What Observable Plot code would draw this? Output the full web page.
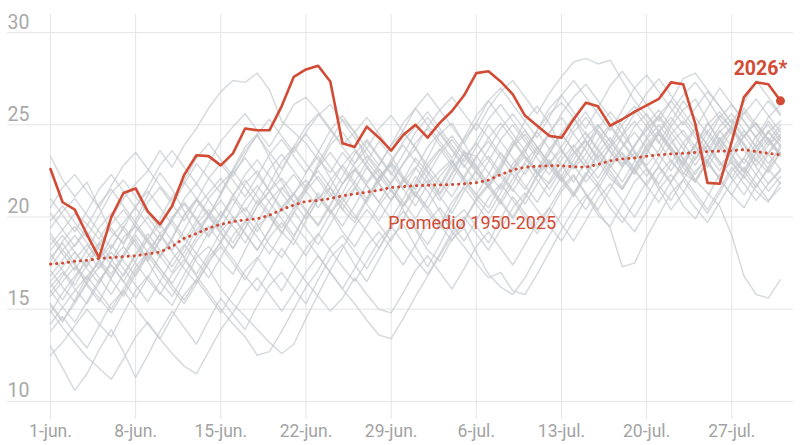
<!DOCTYPE html>
<html>
<head>
<meta charset="utf-8">
<script src="https://cdn.jsdelivr.net/npm/d3@7"></script>
<script src="https://cdn.jsdelivr.net/npm/@observablehq/plot@0.6"></script>
<style>
  html, body { margin: 0; padding: 0; background: #fff; }
  #chart svg { display: block; overflow: hidden; }
</style>
</head>
<body>
<div id="chart"></div>
<script>
// ---- Data ----
const yTicks = [10, 15, 20, 25, 30];
const xTickDias = [0, 7, 14, 21, 28, 35, 42, 49, 56];
const xTickEtiquetas = ["1-jun.", "8-jun.", "15-jun.", "22-jun.", "29-jun.", "6-jul.", "13-jul.", "20-jul.", "27-jul."];

const serie2026 = [
  22.6, 20.8, 20.4, 19.05, 17.8, 20.0, 21.3, 21.55, 20.3, 19.6,
  20.6, 22.3, 23.35, 23.3, 22.8, 23.45, 24.8, 24.7, 24.7, 26.0,
  27.6, 28.0, 28.2, 27.35, 24.0, 23.8, 24.9, 24.3, 23.6, 24.45,
  25.0, 24.3, 25.1, 25.75, 26.6, 27.8, 27.9, 27.35, 26.65, 25.5,
  24.95, 24.4, 24.3, 25.3, 26.2, 26.0, 24.95, 25.3, 25.7, 26.05,
  26.4, 27.3, 27.2, 25.05, 21.85, 21.8, 24.1, 26.5, 27.3, 27.2, 26.3
];

const promedio = [
  17.45, 17.5, 17.6, 17.65, 17.75, 17.8, 17.85, 17.9, 18.0, 18.1,
  18.4, 18.85, 19.1, 19.4, 19.6, 19.75, 19.85, 19.9, 20.1, 20.4,
  20.65, 20.85, 20.9, 21.0, 21.15, 21.25, 21.35, 21.45, 21.6, 21.65,
  21.7, 21.72, 21.74, 21.76, 21.8, 21.86, 22.0, 22.3, 22.55, 22.7,
  22.75, 22.78, 22.78, 22.72, 22.7, 22.85, 23.05, 23.15, 23.2, 23.3,
  23.37, 23.42, 23.45, 23.5, 23.55, 23.57, 23.6, 23.65, 23.55, 23.45, 23.37
];

const historicos = [
  [12.5,13.2,14.1,15.0,14.2,13.5,14.8, 16.0,16.8,15.9,15.2,16.5,17.8,18.4, 17.6,16.9,18.2,19.5,20.1,19.2,18.5, 19.8,21.0,21.6,20.4,19.7,20.9,22.1, 22.8,21.5,20.6,21.8,22.5,23.1,22.0, 21.2,20.5,21.7,22.9,23.6,22.4,21.8, 22.7,23.5,24.2,23.0,22.1,21.5,22.6, 23.8,24.5,23.6,22.4,21.9,23.0,24.1, 24.8,23.9,22.7,21.8,22.5],
  [23.3,22.0,21.1,21.9,20.5,19.2,18.6, 19.8,21.2,22.4,21.5,20.3,19.1,20.0, 21.3,22.6,23.8,24.5,23.2,21.9,20.8, 21.5,22.9,24.1,25.3,24.6,23.0,22.2, 21.4,20.6,21.9,23.2,24.5,25.1,24.0, 22.8,21.7,22.5,23.9,25.2,26.0,25.1, 23.7,22.6,23.4,24.8,25.7,24.9,23.5, 22.8,23.6,24.9,25.8,26.4,25.2,24.0, 23.1,22.5,23.8,24.6,23.9],
  [18.5,19.3,20.2,19.6,18.8,19.9,21.0, 21.8,22.5,23.6,22.7,23.9,24.8,25.9, 26.8,27.4,27.3,27.8,26.9,25.2,24.6, 24.0,23.1,22.4,23.5,22.7,21.9,22.8, 23.9,24.6,23.8,22.5,21.7,22.9,24.2, 25.1,24.3,23.4,22.6,23.5,24.7,25.6, 26.2,25.4,24.1,23.2,24.0,25.3,26.0, 25.2,24.1,23.0,22.3,23.4,24.6,25.5, 24.8,23.6,22.8,23.5,24.4],
  [13.0,11.8,10.6,11.5,12.8,13.9,12.7, 11.3,12.5,13.8,14.9,14.0,13.1,14.4, 15.6,14.7,13.9,15.2,16.3,17.0,16.1, 15.3,16.6,17.8,18.5,17.4,16.5,17.7, 18.9,19.6,18.4,17.3,18.5,19.8,20.4, 19.5,18.6,19.9,21.1,20.2,19.3,20.5, 21.6,22.3,21.2,20.1,19.5,20.7,21.9, 22.6,21.5,20.4,21.3,22.5,23.1,22.0, 21.2,20.5,21.7,22.6,21.8],
  [16.5,17.3,18.1,17.2,16.4,17.6,18.9, 19.5,18.7,17.9,18.8,20.1,21.0,20.2, 19.4,20.6,21.8,22.5,21.4,20.3,21.2, 22.4,23.3,22.1,21.0,21.9,23.0,24.1, 23.3,22.2,21.5,22.7,23.6,24.4,23.5, 22.6,23.7,24.8,25.6,24.7,23.8,22.9, 23.8,24.9,25.7,24.6,23.5,22.8,23.9, 24.7,25.4,24.3,23.1,22.0,21.3,20.6, 19.0,16.8,15.8,15.6,16.6],
  [15.2,14.3,15.5,16.8,17.5,16.6,15.7, 16.9,18.2,19.0,18.1,17.2,16.4,17.5, 18.7,19.8,20.5,19.6,18.5,17.8,18.9, 20.2,21.1,20.3,19.2,18.4,19.5,20.6, 21.5,20.4,19.3,18.2,17.6,18.8,19.4, 18.1,16.9,16.2,15.8,16.7,17.9,19.0, 20.2,21.3,22.4,21.6,20.5,19.7,20.8, 21.9,22.7,21.8,20.6,19.9,21.1,22.3, 23.0,22.2,21.4,20.8,21.9],
  [17.8,18.6,17.5,16.3,15.4,16.7,17.9, 18.8,17.6,16.5,15.7,16.9,18.0,17.2, 16.1,15.3,14.6,13.9,13.2,12.6,13.1, 14.5,15.8,17.1,18.3,19.5,20.4,19.6, 18.7,19.9,21.2,22.0,21.1,20.2,21.4, 22.5,23.3,22.4,21.5,20.7,21.8,22.9, 23.6,22.8,21.9,22.7,23.8,24.5,23.6, 22.7,21.8,22.9,24.0,24.8,23.9,22.8, 23.5,24.4,25.1,24.2,23.4],
  [19.8,20.6,19.7,18.9,20.1,21.3,22.0, 21.1,20.2,19.4,20.6,21.8,22.9,22.1, 21.3,22.5,23.6,24.4,23.5,22.6,23.8, 24.9,25.6,24.7,23.8,22.9,23.7,24.8, 25.5,24.6,23.7,24.9,25.8,26.5,25.6, 24.7,25.9,26.8,27.4,26.5,25.6,26.7, 27.6,28.4,28.6,28.3,28.5,27.4,26.3, 25.5,24.6,25.7,26.6,27.3,26.4,25.3, 24.5,25.6,26.4,25.5,24.6],
  [17.1,16.2,15.4,16.5,17.7,18.5,17.6, 16.8,17.9,19.1,19.8,18.9,18.0,19.2, 20.3,19.5,18.6,19.7,20.9,21.6,20.8, 19.9,20.9,22.0,22.8,21.9,21.0,22.1, 23.0,22.1,21.2,20.5,21.6,22.7,23.4, 22.5,21.6,22.7,23.8,24.5,23.6,22.7, 21.9,22.8,23.9,24.7,23.8,22.9,23.9, 24.8,25.5,24.6,23.7,22.8,23.9,24.9, 25.6,24.7,23.8,24.6,25.2],
  [14.8,15.9,16.8,17.6,16.7,15.8,16.9, 18.0,18.8,17.9,17.0,18.1,19.3,20.1, 19.2,18.3,19.4,20.6,21.4,22.1,21.2, 20.3,19.6,20.7,21.8,22.6,21.7,20.8, 21.9,22.9,23.7,22.8,21.9,21.1,22.2, 23.3,24.1,23.2,22.3,21.5,22.6,23.7, 24.5,23.6,22.7,21.8,22.9,23.8,24.6, 23.7,22.8,21.9,22.8,23.9,24.7,23.8, 22.9,22.1,23.2,24.1,23.3],
  [20.5,21.6,22.3,21.4,20.5,21.7,22.8, 23.5,22.6,21.7,20.9,22.0,23.2,24.0, 23.1,22.2,23.4,24.5,25.3,24.4,23.5, 24.6,25.5,26.1,25.2,24.3,23.4,22.6, 21.8,22.9,24.0,24.8,23.9,23.0,22.1, 23.2,24.3,25.1,24.2,23.3,22.4,23.5, 24.6,25.4,24.5,23.6,22.7,23.8,24.9, 25.6,24.7,23.8,22.9,23.9,25.0,25.7, 24.8,23.9,23.0,23.9,24.8],
  [13.8,14.6,13.7,12.9,14.1,15.3,16.0, 15.1,14.2,13.4,14.6,15.8,16.6,15.7, 14.8,15.9,17.1,17.8,16.9,16.0,17.2, 18.3,19.1,18.2,17.3,16.5,17.6,18.7, 19.5,18.6,17.7,16.9,18.0,19.2,20.0, 19.1,18.2,19.3,20.5,21.3,20.4,19.5, 18.7,19.8,21.0,21.8,20.9,20.0,19.2, 20.3,21.5,22.3,21.4,20.5,19.7,20.8, 21.9,22.7,21.8,20.9,21.6],
  [18.9,18.0,17.1,18.2,19.4,20.2,19.3, 18.4,17.6,18.7,19.9,20.7,19.8,18.9, 20.0,21.2,22.0,21.1,20.2,19.4,20.5, 21.7,22.5,21.6,20.7,19.9,21.0,22.2, 22.9,22.0,21.1,22.3,23.4,24.2,23.3, 22.4,21.6,22.7,23.9,24.7,23.8,22.9, 22.0,23.1,24.3,25.0,24.1,23.2,22.4, 23.5,24.6,25.4,24.5,23.6,22.7,23.8, 25.0,25.7,24.8,23.9,24.5],
  [14.9,14.0,13.2,12.4,11.8,11.2,12.3, 13.5,14.3,13.4,12.6,11.9,11.5,12.7, 13.9,14.8,15.9,16.7,15.8,14.9,15.9, 17.0,17.9,17.0,16.1,17.2,18.4,19.2, 18.3,17.4,18.5,19.7,20.5,19.6,18.7, 19.8,21.0,21.8,20.9,20.0,19.1,20.2, 21.4,22.2,21.3,20.4,21.5,22.7,23.5, 22.6,21.7,20.9,22.0,23.2,23.9,23.0, 22.1,21.2,22.3,23.4,22.6],
  [16.2,17.0,16.1,15.3,16.4,17.6,18.4, 17.5,16.6,15.8,16.9,17.7,16.8,15.9, 15.0,14.2,13.5,12.5,12.7,13.8,15.0, 16.2,17.1,18.3,19.0,18.1,17.2,18.3, 19.5,20.3,19.4,18.5,19.6,20.8,21.6, 20.7,19.8,20.9,22.1,22.9,22.0,21.1, 22.2,23.4,24.1,23.2,22.3,21.5,22.6, 23.7,24.5,23.6,22.7,21.9,23.0,24.2, 24.9,24.0,23.1,22.4,23.5],
  [18.2,19.0,18.1,17.3,18.4,19.6,20.4, 19.5,18.6,17.8,18.9,20.1,20.9,20.0, 19.1,18.3,19.4,20.6,21.4,20.5,19.6, 18.8,17.9,17.0,16.1,15.3,14.4,13.6, 13.4,14.5,15.7,16.8,17.9,19.0,19.8, 20.9,21.7,20.8,19.9,21.0,22.2,23.0, 22.1,21.2,22.3,23.5,24.3,23.4,22.5, 21.7,22.8,24.0,24.7,23.8,22.9,22.1, 23.2,24.4,25.1,24.2,23.3],
  [17.6,18.7,19.5,18.6,17.7,16.9,18.0, 19.2,20.0,19.1,18.2,19.3,20.5,21.3, 22.1,21.2,20.3,21.4,22.6,23.4,22.5, 21.6,22.7,23.9,24.6,23.7,22.8,21.9, 22.9,24.1,24.9,25.7,24.8,23.9,23.0, 24.1,25.3,26.1,25.2,24.3,23.4,24.5, 25.6,26.5,27.2,26.3,25.4,24.5,25.6, 26.7,27.5,26.6,25.7,24.8,25.9,27.0, 26.1,25.2,24.3,25.4,26.1],
  [16.0,15.1,14.3,15.4,16.6,17.4,16.5, 15.6,16.7,17.9,18.7,17.8,16.9,18.0, 19.2,20.0,19.1,18.2,19.3,20.5,21.3, 20.4,19.5,20.6,21.8,22.6,21.7,20.8, 19.9,21.0,22.2,21.4,20.3,19.2,18.4, 17.5,16.7,17.0,16.0,15.8,16.9,18.1, 19.3,20.4,21.2,20.3,19.4,17.3,17.5, 18.9,20.1,21.3,22.0,21.1,20.2,21.3, 22.5,23.2,22.3,21.4,22.2],
  [21.0,20.1,19.2,20.3,21.5,22.3,21.4, 20.5,21.6,22.8,23.6,22.7,21.8,22.9, 24.1,24.9,25.6,24.7,23.8,24.9,26.1, 26.5,25.7,24.8,23.9,24.6,25.4,24.5, 23.6,24.7,25.9,26.7,25.8,24.9,24.0, 25.1,26.3,27.0,26.1,25.2,24.3,25.4, 26.6,27.4,26.5,25.6,24.7,25.8,27.0, 27.7,26.8,25.9,25.0,25.9,26.8,26.0, 25.1,24.3,25.4,26.3,25.5],
  [15.7,16.5,17.3,16.4,15.6,14.8,15.9, 17.1,17.9,17.0,16.1,15.3,16.4,17.6, 18.4,17.5,16.6,17.7,18.9,19.7,18.8, 17.9,19.0,20.2,21.0,20.1,19.2,18.3, 19.4,20.6,21.4,20.5,19.6,18.7,19.8, 21.0,21.8,20.9,20.0,21.1,22.3,23.1, 22.2,21.3,20.4,21.5,22.7,23.5,22.6, 21.7,20.8,21.9,23.1,23.9,23.0,22.1, 21.2,22.3,23.5,24.3,23.4],
  [19.4,20.3,21.0,20.1,19.2,18.3,19.4, 20.6,21.4,20.5,19.6,18.7,19.8,21.0, 21.8,22.5,21.6,20.7,21.8,23.0,23.8, 22.9,22.0,21.1,22.2,23.4,24.2,23.3, 22.4,21.5,22.6,23.8,24.6,23.7,22.8, 21.9,23.0,24.2,25.0,24.1,23.2,22.3, 23.4,24.6,25.4,24.5,23.6,22.7,23.8, 25.0,25.8,24.9,24.0,23.1,24.2,25.4, 26.1,25.2,24.3,23.4,24.3],
  [16.8,17.7,18.5,19.2,18.3,17.4,16.5, 17.6,18.8,19.6,18.7,17.8,18.9,20.1, 20.9,20.0,19.1,18.2,19.3,20.5,21.3, 22.0,21.1,20.2,21.3,22.5,23.3,22.4, 21.5,20.6,21.7,22.9,23.7,22.8,21.9, 21.0,20.2,21.3,22.5,23.3,22.4,21.5, 22.6,23.8,24.6,23.7,22.8,21.9,23.0, 24.2,25.0,24.1,23.2,22.3,23.4,24.6, 25.3,24.4,23.5,22.6,23.5],
  [14.2,15.1,16.0,16.8,15.9,15.0,16.1, 17.3,18.1,17.2,16.3,15.5,16.6,17.8, 18.6,17.7,16.8,16.0,17.1,18.3,17.4, 16.5,15.7,14.9,15.6,16.7,15.8,15.0, 14.8,15.9,17.1,17.9,17.0,16.1,17.2, 18.4,19.2,18.3,17.4,18.5,19.7,20.5, 19.6,18.7,19.8,21.0,21.8,20.9,20.0, 21.1,22.3,23.1,22.2,21.3,20.4,21.5, 22.7,21.8,20.9,21.8,22.6],
  [18.0,17.1,16.3,17.4,18.6,19.4,18.5, 19.6,20.8,21.6,20.7,19.8,20.9,22.1, 22.9,22.0,21.1,22.2,23.4,24.2,23.3, 22.4,23.5,24.7,25.5,24.6,23.7,22.8, 23.9,25.1,25.9,25.0,24.1,23.2,24.3, 25.5,26.3,25.4,24.5,23.6,24.7,25.9, 26.6,25.7,24.8,25.9,27.1,27.9,27.0, 26.1,25.2,26.3,27.5,27.8,26.9,26.0, 25.1,26.2,27.4,26.5,25.6],
  [17.3,18.2,19.0,18.1,17.2,18.3,19.5, 18.6,17.7,18.8,20.0,20.8,19.9,19.0, 19.9,21.0,20.1,19.2,20.3,21.5,22.3, 21.4,20.5,21.6,22.8,23.6,22.7,21.8, 20.9,22.0,23.2,22.4,21.3,22.4,23.6, 22.7,21.8,22.9,24.1,23.2,22.3,23.4, 24.5,23.6,22.7,23.8,24.9,24.0,23.1, 22.2,23.3,24.5,25.2,24.3,23.4,22.5, 23.6,24.7,23.8,22.9,23.7],
  [16.4,15.5,16.6,17.8,18.6,17.7,16.8, 17.9,19.1,18.2,17.3,18.4,19.6,20.4, 19.5,18.6,19.7,20.9,20.0,19.1,20.2, 21.4,22.2,21.3,20.4,21.5,22.7,21.8, 20.9,21.9,22.7,21.8,20.9,22.0,23.2, 24.0,23.1,22.2,21.4,22.5,23.7,24.5, 23.6,22.7,23.8,25.0,24.1,23.2,22.3, 23.4,24.6,23.7,22.8,23.9,25.1,24.2, 23.3,22.4,23.5,24.7,23.8],
  [19.1,18.2,17.4,16.6,17.7,18.9,19.7, 20.5,19.6,18.7,19.8,21.0,21.8,20.9, 20.0,21.1,22.3,23.1,22.2,21.3,20.4, 21.5,22.7,23.5,22.6,21.7,20.8,21.9, 23.1,23.9,23.0,22.1,21.2,22.3,23.5, 23.3,22.4,21.5,22.6,23.8,24.6,23.7, 22.8,21.9,23.0,24.2,25.0,24.1,23.2, 24.3,25.5,26.3,25.4,24.5,23.6,24.7, 23.8,22.9,24.0,25.2,24.3],
  [15.9,16.8,17.7,18.5,17.6,16.7,17.8, 19.0,18.1,17.2,16.4,17.5,18.7,19.5, 18.6,19.7,20.9,21.7,20.8,19.9,19.0, 20.1,21.3,20.4,19.5,20.6,21.8,22.6, 21.7,20.8,19.9,21.0,22.2,23.0,22.1, 21.2,22.3,23.5,22.6,21.7,20.8,21.9, 23.1,23.9,23.0,22.1,23.2,24.4,25.2, 24.3,23.4,22.5,23.6,24.8,23.9,23.0, 22.1,23.2,24.4,25.0,24.1],
  [20.2,19.3,18.4,19.5,20.7,21.5,20.6, 19.7,18.8,19.9,21.1,21.9,21.0,20.1, 21.2,22.4,23.2,22.3,21.4,22.5,23.7, 24.5,23.6,22.7,21.8,22.9,24.1,23.2, 22.3,23.4,24.6,25.4,24.5,23.6,22.7, 23.8,25.0,24.1,23.2,22.3,23.4,24.6, 25.4,24.5,23.6,22.7,23.8,25.0,25.8, 24.9,24.0,25.1,26.3,25.4,24.5,23.6, 24.7,25.9,25.0,24.1,25.0],
  [15.3,14.4,15.3,16.4,17.3,18.1,17.2, 16.3,15.4,16.5,17.7,18.5,17.6,16.7, 17.8,19.0,19.8,18.9,18.0,19.1,20.3, 19.4,18.5,19.6,20.8,21.6,20.7,19.8, 20.9,22.1,21.2,20.3,19.4,20.5,21.7, 22.5,21.6,20.7,21.8,23.0,23.8,22.9, 22.0,21.1,22.2,23.4,22.5,21.6,22.7, 23.9,24.7,23.8,22.9,22.0,23.1,24.3, 23.4,22.5,21.6,22.7,23.9]
];

// ---- Tables built from the arrays ----
const filasHist = historicos.flatMap((serie, i) => serie.map((t, d) => ({serie: i, dia: d, temp: t})));
const filas2026 = serie2026.map((t, d) => ({dia: d, temp: t}));
const filasProm = promedio.map((t, d) => ({dia: d, temp: t}));
const ultimo = filas2026[filas2026.length - 1];
const ticksX = xTickDias.map((d, i) => ({dia: d, label: xTickEtiquetas[i]}));

const rojo = "#d24b35";
const font = "Roboto, 'Liberation Sans', sans-serif";

const chart = Plot.plot({
  width: 800,
  height: 445,
  marginLeft: 7,
  marginRight: 7,
  marginTop: 14,
  marginBottom: 26,
  style: {fontFamily: font, background: "#fff", overflow: "hidden"},
  x: {domain: [-3.53, 61.07], axis: null},
  y: {domain: [9.02, 30.98], axis: null},
  marks: [
    Plot.ruleY(yTicks, {stroke: "#e5e5e5", strokeWidth: 1}),
    Plot.ruleX(xTickDias, {stroke: "#e5e5e5", strokeWidth: 1}),
    Plot.line(filasHist, {x: "dia", y: "temp", z: "serie", stroke: "#c4c8cd", strokeOpacity: 0.68, strokeWidth: 1.5, curve: "linear"}),
    Plot.line(filasProm, {x: "dia", y: "temp", stroke: rojo, strokeWidth: 2.9, strokeLinecap: "round", strokeDasharray: "0.3 5.7"}),
    Plot.line(filas2026, {x: "dia", y: "temp", stroke: rojo, strokeWidth: 2.6, strokeLinejoin: "round"}),
    Plot.dot([ultimo], {x: "dia", y: "temp", r: 4.5, fill: rojo}),
    Plot.text([ultimo], {x: "dia", y: "temp", text: () => "2026*", fill: rojo, fontSize: 19.5, fontWeight: "bold", textAnchor: "middle", lineAnchor: "bottom", dx: -20, dy: -26}),
    Plot.text([filasProm[28]], {x: "dia", y: "temp", text: () => "Promedio 1950-2025", fill: rojo, fontSize: 18, textAnchor: "start", lineAnchor: "bottom", dx: -3, dy: 42}),
    Plot.text(yTicks, {y: d => d, text: d => String(d), frameAnchor: "left", textAnchor: "start", lineAnchor: "bottom", dx: 0, dy: -4, fill: "#a9a9a9", fontSize: 19.5}),
    Plot.text(ticksX, {x: "dia", text: "label", frameAnchor: "bottom", textAnchor: "middle", lineAnchor: "top", dy: 5, fill: "#a3a3a3", fontSize: 17.5})
  ]
});
document.getElementById("chart").appendChild(chart);
</script>
</body>
</html>
